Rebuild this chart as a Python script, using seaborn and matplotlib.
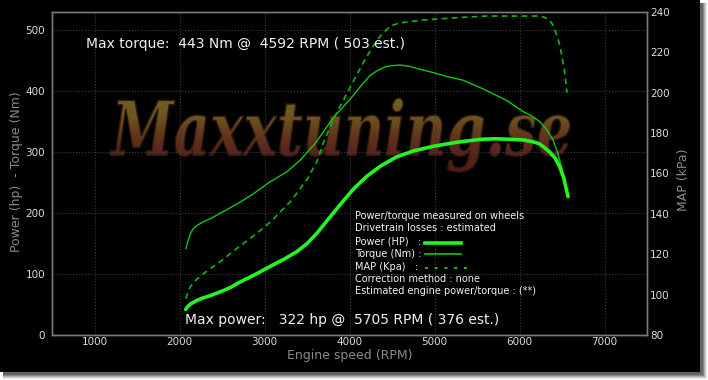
import numpy as np
import matplotlib
matplotlib.use("Agg")
import matplotlib.pyplot as plt
import seaborn as sns
from matplotlib.patches import Rectangle, PathPatch
from matplotlib.textpath import TextPath
from matplotlib.font_manager import FontProperties
from matplotlib.lines import Line2D
from matplotlib.transforms import Affine2D
from matplotlib.colors import LinearSegmentedColormap

# ---------------- data ----------------
power_rpm = [2072, 2100, 2130, 2170, 2209, 2280, 2350, 2482, 2600, 2700, 2873, 3000, 3100,
             3250, 3382, 3500, 3617, 3750, 3891, 4050, 4200, 4363, 4550, 4751, 5000,
             5250, 5534, 5705, 5925, 6050, 6160, 6230, 6290, 6356, 6420, 6473, 6520, 6571]
power_hp = [42, 47, 51, 54, 57, 61, 64, 71, 78, 86, 98, 107.5, 115,
            126, 137, 150, 167, 190, 214, 240, 260, 277, 292, 302, 310,
            316, 321, 322, 321, 320, 317, 314, 308, 300, 290, 276, 258, 227]

torque_rpm = [2076, 2095, 2115, 2135, 2160, 2190, 2220, 2260, 2300, 2380, 2482, 2600, 2700,
              2873, 3050, 3265, 3421, 3600, 3812, 4008, 4130, 4243, 4330, 4420, 4500,
              4595, 4700, 4800, 4947, 5150, 5338, 5600, 5847, 6050, 6150, 6239, 6320,
              6395, 6450, 6493, 6530, 6571]
torque_nm = [142, 152, 161, 168, 174, 178, 181, 184, 187, 192, 200, 209, 217,
             232, 250, 268, 287, 315, 357, 387, 408, 426, 434, 440, 442,
             443, 441, 437, 432, 424, 418, 402, 385, 366, 359, 350, 337,
             320, 298, 276, 255, 227]

map_rpm = [2076, 2100, 2130, 2200, 2286, 2500, 2678, 2900, 3069, 3304, 3500, 3617, 3700,
           3812, 3949, 4050, 4164, 4260, 4360, 4478, 4580, 4674, 4850, 5026, 5300,
           5613, 6000, 6238, 6300, 6355, 6400, 6434, 6465, 6493, 6532, 6559]
map_kpa = [98, 101.5, 104, 107.5, 110.5, 117, 123, 130, 136, 146, 157, 166, 176,
           187, 198, 206, 215, 222, 228, 233, 234.5, 235, 236, 236.5, 237.3,
           238, 238, 238, 237.3, 236, 233, 229, 225, 219.5, 210, 200]

x_ticks = [1000, 2000, 3000, 4000, 5000, 6000, 7000]
left_ticks = [0, 100, 200, 300, 400, 500]
right_ticks = [80, 100, 120, 140, 160, 180, 200, 220, 240]

max_torque_text = "Max torque:  443 Nm @  4592 RPM ( 503 est.)"
max_power_text = "Max power:   322 hp @  5705 RPM ( 376 est.)"
legend_texts = ["Power/torque measured on wheels",
                "Drivetrain losses : estimated",
                "Power (HP)   :",
                "Torque (Nm) :",
                "MAP (Kpa)   :",
                "Correction method : none",
                "Estimated engine power/torque : (**)"]
watermark = "Maxxtuning.se"
x_label = "Engine speed (RPM)"
left_label = "Power (hp)  - Torque (Nm)"
right_label = "MAP (kPa)"

# ---------------- figure ----------------
W, H = 708, 380
plt.rcParams['font.family'] = ['DejaVu Sans']
fig = plt.figure(figsize=(W / 100, H / 100), dpi=100, facecolor='white')


def fx(x):
    return x / W


def fy(y):
    return 1 - y / H


def frect(x0, y0, x1, y1, **kw):
    r = Rectangle((fx(x0), fy(y1)), (x1 - x0) / W, (y1 - y0) / H,
                  transform=fig.transFigure, **kw)
    fig.add_artist(r)
    return r


# drop shadow
for i, a in enumerate([0.10, 0.15, 0.2, 0.3, 0.4]):
    d = 7 - i
    frect(3, 3, 700 + d, 372 + d, facecolor='#303030', edgecolor='none', alpha=a, zorder=-5)
# black panel
frect(0, 0, 700, 372, facecolor='#000000', edgecolor='none', zorder=-4)

# watermark axis (pixel coords, y up)
wm = fig.add_axes([0, 0, 1, 1], zorder=0)
wm.set_axis_off()
wm.patch.set_alpha(0)
fp = FontProperties(family='DejaVu Serif', weight='bold', style='italic')
tp = TextPath((0, 0), watermark, size=100, prop=fp)
ext = tp.get_extents()
bx0, bx1, by0, by1 = 110, 570, H - 172, H - 98
tr = Affine2D().translate(-ext.x0, -ext.y0).scale((bx1 - bx0) / ext.width,
                                                  (by1 - by0) / ext.height).translate(bx0, by0)
path = tr.transform_path(tp)
patch = PathPatch(path, facecolor='none', edgecolor='#2a1a0c', lw=1.0, transform=wm.transData)
wm.add_patch(patch)
cmap = LinearSegmentedColormap.from_list('wm', ['#735d22', '#6e5420', '#63361c', '#5c1f1e', '#561a1a'])
grad = np.linspace(0, 1, 256).reshape(-1, 1)
im = wm.imshow(grad, extent=[bx0, bx1, by0, by1], origin='upper', cmap=cmap,
               aspect='auto', interpolation='bilinear')
im.set_clip_path(patch)
wm.set_xlim(0, W)
wm.set_ylim(0, H)

# main axes
ax = fig.add_axes([fx(52), 1 - 335 / H, 595 / W, 323 / H], zorder=1)
ax.patch.set_alpha(0)
ax2 = ax.twinx()
ax2.patch.set_alpha(0)

sns.lineplot(x=torque_rpm, y=torque_nm, ax=ax, color='#12c812', linewidth=1.0,
             solid_joinstyle='round')
sns.lineplot(x=power_rpm, y=power_hp, ax=ax, color='#22f522', linewidth=2.6,
             solid_joinstyle='round', solid_capstyle='round')
sns.lineplot(x=map_rpm, y=map_kpa, ax=ax2, color='#12b812', linewidth=1.2,
             linestyle=(0, (3.4, 2.6)))

ax.set_xlim(500, 7500)
ax.set_ylim(0, 530)
ax2.set_ylim(80, 240)
ax.set_xticks(x_ticks)
ax.set_yticks(left_ticks)
ax2.set_yticks(right_ticks)
ax.grid(True, color='#3c3c3c', linestyle=':', linewidth=0.8)
ax2.grid(False)
ax.set_axisbelow(True)
for a in (ax, ax2):
    for s in a.spines.values():
        s.set_color('#7a7a7a')
        s.set_linewidth(1.0)
    a.set_xlabel('')
    a.set_ylabel('')
ax.tick_params(axis='both', length=0, labelsize=7.5, labelcolor='#dcdcdc')
ax.tick_params(axis='y', pad=5)
ax.tick_params(axis='x', pad=1.5)
ax2.tick_params(axis='y', length=0, labelsize=7.5, labelcolor='#dcdcdc', pad=2)

# texts
fig.text(fx(86), fy(44), max_torque_text, color='#f0f0f0', fontsize=10, va='center', ha='left')
fig.text(fx(185), fy(320), max_power_text, color='#f0f0f0', fontsize=10, va='center', ha='left')
fig.text(fx(349.5), fy(356), x_label, color='#8a8a8a', fontsize=9, ha='center', va='center')
fig.text(fx(17), fy(172), left_label, color='#8a8a8a', fontsize=9, ha='center', va='center',
         rotation=90)
fig.text(fx(684), fy(180), right_label, color='#8a8a8a', fontsize=9, ha='center', va='center',
         rotation=90)

legend_y = [216, 228, 242, 254, 267, 279, 291]
for t, yy in zip(legend_texts, legend_y):
    fig.text(fx(355), fy(yy), t, color='#f2f2f2', fontsize=7, ha='left', va='center')
fig.add_artist(Line2D([fx(425), fx(461)], [fy(242.5), fy(242.5)], color='#22f522', lw=2.6,
                      transform=fig.transFigure))
fig.add_artist(Line2D([fx(425), fx(461)], [fy(254), fy(254)], color='#12c812', lw=1.2,
                      transform=fig.transFigure))
fig.add_artist(Line2D([fx(425), fx(467)], [fy(268), fy(268)], color='#12c812', lw=1.4,
                      linestyle=(0, (1.5, 3.5)), transform=fig.transFigure))

fig.savefig('out.png', dpi=100, facecolor='white')
